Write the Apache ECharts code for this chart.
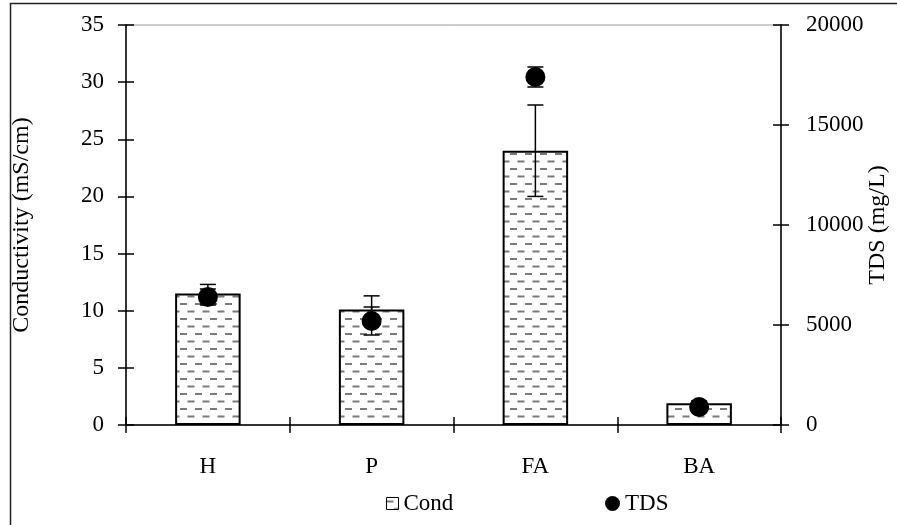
<!DOCTYPE html>
<html>
<head>
<meta charset="utf-8">
<script src="https://cdn.jsdelivr.net/npm/echarts@6/dist/echarts.min.js"></script>
<style>
  html, body { margin: 0; padding: 0; background: #fff; overflow: hidden; }
  #chart { width: 897px; height: 525px; }
</style>
</head>
<body>
<div id="chart"></div>
<script>
// Sample types and measured values
const categories = ['H', 'P', 'FA', 'BA'];
const condValues = [11.5, 10.1, 24.0, 1.9];      // mS/cm
const condErrors = [0.8, 1.2, 4.0, 0.2];
const tdsValues = [6400, 5200, 17400, 900];      // mg/L
const tdsErrors = [400, 700, 500, 100];
const condTicks = { min: 0, max: 35, interval: 5 };
const tdsTicks = { min: 0, max: 20000, interval: 5000 };

// Horizontal dashed fill used for the conductivity bars
function makeDashPattern() {
  const c = document.createElement('canvas');
  c.width = 15; c.height = 15;
  const ctx = c.getContext('2d');
  ctx.fillStyle = '#fff';
  ctx.fillRect(0, 0, 15, 15);
  ctx.fillStyle = '#7a7a7a';
  ctx.fillRect(0, 3, 7, 2);
  ctx.fillRect(7.5, 10.5, 7, 2);
  return c;
}
const dashFill = { image: makeDashPattern(), repeat: 'repeat' };

function errorRenderer(params, api) {
  const x = api.value(0);
  const top = api.coord([x, api.value(2)]);
  const bot = api.coord([x, api.value(1)]);
  const hw = 8;
  const st = { stroke: '#000', lineWidth: 1.5 };
  return {
    type: 'group',
    children: [
      { type: 'line', shape: { x1: top[0], y1: top[1], x2: bot[0], y2: bot[1] }, style: st },
      { type: 'line', shape: { x1: top[0] - hw, y1: top[1], x2: top[0] + hw, y2: top[1] }, style: st },
      { type: 'line', shape: { x1: bot[0] - hw, y1: bot[1], x2: bot[0] + hw, y2: bot[1] }, style: st }
    ]
  };
}

const condErrData = categories.map((c, i) => [i, condValues[i] - condErrors[i], condValues[i] + condErrors[i]]);
const tdsErrData = categories.map((c, i) => [i, tdsValues[i] - tdsErrors[i], tdsValues[i] + tdsErrors[i]]);

const FONT = 'Liberation Serif';
const txt = { fontFamily: FONT, fontSize: 23, color: '#000' };
const titleTxt = { fontFamily: FONT, fontSize: 24, color: '#000' };
const axisLine = { show: true, lineStyle: { color: '#000', width: 1.5 } };
const tickStyle = { color: '#000', width: 1.5 };
const plain = v => String(v);

const chart = echarts.init(document.getElementById('chart'), null, { renderer: 'canvas', width: 897, height: 525 });
chart.setOption({
  backgroundColor: '#fff',
  animation: false,
  textStyle: { fontFamily: FONT },
  grid: {
    left: 126, top: 25, width: 655, height: 400,
    containLabel: false, outerBoundsMode: 'none',
    show: true, borderColor: '#9a9a9a', borderWidth: 1, backgroundColor: 'transparent'
  },
  graphic: [{
    type: 'rect',
    shape: { x: 10.5, y: 3.5, width: 1000, height: 1000 },
    style: { fill: 'none', stroke: '#222', lineWidth: 1.5 },
    silent: true
  }],
  legend: [
    {
      data: [{ name: 'Cond', icon: 'rect' }],
      left: 381, top: 487, itemWidth: 12, itemHeight: 12,
      itemStyle: { borderWidth: 1, borderColor: '#000' },
      textStyle: txt
    },
    {
      data: [{ name: 'TDS', icon: 'circle' }],
      left: 600, top: 487, itemWidth: 15, itemHeight: 15,
      itemStyle: { color: '#000', opacity: 1 },
      textStyle: txt
    }
  ],
  xAxis: [
    {
      type: 'category', data: categories, position: 'bottom',
      axisLine: axisLine,
      axisTick: { show: true, inside: false, length: 8, alignWithLabel: false, lineStyle: tickStyle },
      axisLabel: Object.assign({ margin: 30 }, txt),
      splitLine: { show: false }
    },
    {
      type: 'category', data: categories, position: 'bottom',
      axisLine: { show: false },
      axisTick: { show: true, inside: true, length: 8, lineStyle: tickStyle },
      axisLabel: { show: false },
      splitLine: { show: false }
    }
  ],
  yAxis: [
    Object.assign({
      type: 'value', position: 'left',
      name: 'Conductivity (mS/cm)', nameLocation: 'middle', nameGap: 92, nameRotate: 90,
      nameMoveOverlap: false,
      nameTextStyle: titleTxt,
      axisLine: axisLine,
      axisTick: { show: true, inside: false, length: 8, lineStyle: tickStyle },
      axisLabel: Object.assign({ margin: 22, formatter: plain }, txt),
      splitLine: { show: false }
    }, condTicks),
    Object.assign({
      type: 'value', position: 'right',
      name: 'TDS (mg/L)', nameLocation: 'middle', nameGap: 85, nameRotate: 90,
      nameMoveOverlap: false,
      nameTextStyle: titleTxt,
      axisLine: axisLine,
      axisTick: { show: true, inside: false, length: 8, lineStyle: tickStyle },
      axisLabel: Object.assign({ margin: 25, formatter: plain }, txt),
      splitLine: { show: false }
    }, tdsTicks),
    Object.assign({
      type: 'value', position: 'left',
      axisLine: { show: false },
      axisTick: { show: true, inside: true, length: 8, lineStyle: tickStyle },
      axisLabel: { show: false },
      splitLine: { show: false }
    }, condTicks),
    Object.assign({
      type: 'value', position: 'right',
      axisLine: { show: false },
      axisTick: { show: true, inside: true, length: 8, lineStyle: tickStyle },
      axisLabel: { show: false },
      splitLine: { show: false }
    }, tdsTicks)
  ],
  series: [
    {
      name: 'Cond', type: 'bar', xAxisIndex: 0, yAxisIndex: 0,
      data: condValues, barWidth: '40%',
      itemStyle: { color: dashFill, borderColor: '#000', borderWidth: 2 },
      z: 2
    },
    {
      name: 'CondErr', type: 'custom', xAxisIndex: 0, yAxisIndex: 0,
      data: condErrData, encode: { x: 0, y: [1, 2] },
      renderItem: errorRenderer, z: 3
    },
    {
      name: 'TDSErr', type: 'custom', xAxisIndex: 0, yAxisIndex: 1,
      data: tdsErrData, encode: { x: 0, y: [1, 2] },
      renderItem: errorRenderer, z: 3
    },
    {
      name: 'TDS', type: 'scatter', xAxisIndex: 0, yAxisIndex: 1,
      data: tdsValues, symbol: 'circle', symbolSize: 20,
      itemStyle: { color: '#000', opacity: 1 }, z: 4
    }
  ]
});
</script>
</body>
</html>
